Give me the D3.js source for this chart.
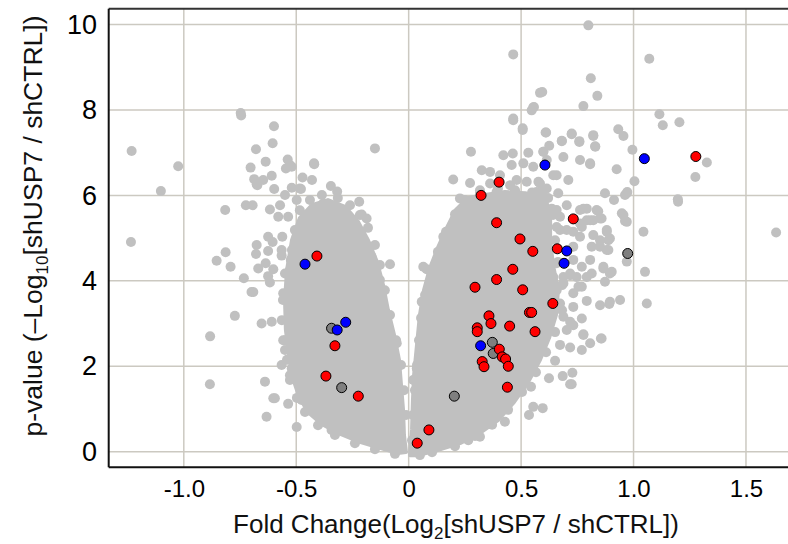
<!DOCTYPE html>
<html>
<head>
<meta charset="utf-8">
<script src="https://cdn.jsdelivr.net/npm/d3@7"></script>
<style>
  body { margin: 0; background: #fff; }
  svg { display: block; font-family: "Liberation Sans", Arial, sans-serif; }
</style>
</head>
<body>
<div id="chart"></div>
<script>
// tick values and labels
const xTickValues = [-1.0, -0.5, 0, 0.5, 1.0, 1.5];
const xTickLabels = ["-1.0", "-0.5", "0", "0.5", "1.0", "1.5"];
const yTickValues = [0, 2, 4, 6, 8, 10];
const yTickLabels = ["0", "2", "4", "6", "8", "10"];

// outlines of the two dense clouds of grey points [log2FC, -log10 p]
const leftCore = [[-0.484,5.47],[-0.430,5.77],[-0.359,5.89],[-0.283,5.73],[-0.225,5.38],[-0.181,4.95],[-0.141,4.44],
  [-0.114,3.90],[-0.092,3.31],[-0.065,2.73],[-0.043,2.15],[-0.034,1.56],[-0.025,0.98],[-0.021,0.39],[-0.012,-0.01],
  [-0.048,-0.03],[-0.128,0.09],[-0.217,0.23],[-0.306,0.42],[-0.386,0.65],[-0.448,0.93],[-0.488,1.31],[-0.515,1.73],
  [-0.532,2.27],[-0.546,2.85],[-0.550,3.55],[-0.541,4.25],[-0.519,4.95]];
const rightCore = [[0.006,-0.08],[0.015,0.51],[0.019,1.21],[0.024,1.79],[0.037,2.50],[0.050,3.20],[0.068,3.78],
  [0.095,4.30],[0.130,4.77],[0.170,5.24],[0.210,5.66],[0.264,5.94],[0.339,6.01],[0.428,6.08],[0.518,6.05],[0.606,5.96],
  [0.629,5.54],[0.629,4.95],[0.642,4.37],[0.664,3.78],[0.655,3.20],[0.624,2.66],[0.584,2.15],[0.531,1.63],[0.468,1.16],
  [0.397,0.74],[0.317,0.44],[0.228,0.20],[0.117,0.02],[0.041,-0.08]];

// grey points sitting on the rim of the dense clouds
const rimPoints = [
  [-0.559,3.55],[-0.564,3.08],[-0.550,2.61],[-0.541,2.15],[-0.528,1.68],[-0.497,1.26],[-0.461,0.93],[-0.403,0.62],
  [-0.328,0.39],[-0.239,0.20],[-0.150,0.06],[-0.061,-0.05],
  [-0.506,5.19],[-0.519,4.72],[-0.528,4.25],[-0.484,5.65],[-0.439,5.89],[-0.386,6.01],[-0.315,5.94],[-0.261,5.77],
  [-0.217,5.54],[-0.181,5.24],[-0.150,4.84],[-0.128,4.37],[-0.106,3.78],[-0.056,2.61],[-0.034,2.03],[-0.021,1.44],[-0.012,0.86],
  [0.015,0.27],[0.019,0.86],[0.028,1.44],[0.037,2.03],[0.046,2.61],[0.055,3.13],[0.073,3.67],[0.099,4.21],[0.130,4.68],
  [0.166,5.15],[0.206,5.56],[0.250,5.89],
  [0.317,6.07],[0.397,6.16],[0.473,6.12],[0.549,6.07],[0.620,5.94],
  [0.642,5.54],[0.651,4.95],[0.664,4.44],[0.682,3.90],[0.682,3.31],[0.651,2.80],[0.611,2.33],[0.566,1.86],[0.504,1.40],
  [0.442,0.98],[0.371,0.63],[0.295,0.37],[0.206,0.13],[0.104,-0.01],[0.050,-0.08]
];

// scattered grey points outside the dense clouds
const greyPoints = [
  [-1.232,7.04],[-1.025,6.68],[-1.102,6.10],[-0.747,7.93],[-0.745,7.87],[-0.679,7.08],[-0.703,6.65],[-0.687,6.38],[-0.676,6.26],
  [-1.235,4.91],[-0.816,5.66],[-0.724,5.77],[-0.694,5.77],[-0.854,4.47],[-0.814,4.67],[-0.792,4.33],[-0.733,4.06],[-0.699,3.74],[-0.773,3.18],
  [-0.599,7.62],[-0.605,7.22],[-0.636,6.79],[-0.420,6.73],[-0.538,6.84],[-0.546,6.63],[-0.520,6.67],
  [-0.647,6.36],[-0.609,6.46],[-0.673,6.24],[-0.598,6.15],[-0.472,6.42],[-0.430,6.36],[-0.520,6.18],[-0.479,6.15],[-0.346,6.22],[-0.318,6.09],
  [-0.550,6.01],[-0.498,5.89],[-0.572,5.77],[-0.617,5.67],[-0.580,5.50],[-0.536,5.50],[-0.625,5.03],[-0.605,4.91],[-0.562,5.03],
  [-0.676,4.84],[-0.679,4.63],[-0.625,4.70],[-0.565,4.72],[-0.565,4.59],[-0.669,4.29],[-0.636,4.41],[-0.602,4.27],[-0.625,4.11],
  [-0.617,3.96],[-0.550,4.17],[-0.524,4.49],[-0.883,2.70],[-0.884,1.58],
  [-0.150,7.10],[-0.421,6.75],[-0.528,6.71],[-0.484,6.16],[-0.380,5.81],[-0.335,5.73],[-0.261,5.30],[-0.231,5.19],[-0.220,5.85],
  [-0.209,5.55],[-0.187,5.46],[-0.172,4.80],[-0.165,4.56],[-0.150,4.17],[-0.128,4.02],[-0.083,4.39],
  [-0.691,3.74],[-0.654,3.00],[-0.609,3.04],[-0.639,1.64],[-0.595,1.25],[-0.536,1.12],[-0.632,0.82],[-0.498,0.58],[-0.558,2.61],
  [-0.550,2.38],[-0.565,2.03],[-0.520,1.95],[-0.528,1.79],[-0.469,1.21],[-0.439,0.98],[-0.343,0.51],[-0.558,3.71],[-0.528,3.55],
  [-0.083,3.20],[-0.053,2.54],[-0.602,1.25],[-0.476,1.21],
  [0.065,3.51],[0.036,1.95],[0.020,1.68],
  [0.792,3.53],[0.892,3.46],[0.940,3.55],[1.059,3.47],[0.718,3.04],[0.770,3.12],[0.777,2.75],[0.807,2.54],[0.855,2.65],[0.770,2.38],
  [0.718,2.44],[0.673,2.50],[0.651,2.13],[0.685,1.77],[0.718,1.58],[0.728,1.85],[0.624,1.72],[0.544,1.52],[0.554,1.05],[0.596,1.02],
  [0.535,0.86],[0.428,0.70],[0.317,0.35],[0.725,1.58],[0.265,0.27],
  [0.161,5.01],[0.080,4.27],[0.117,4.25],
  [0.688,6.90],[0.762,6.83],[0.807,6.73],[0.925,6.61],[1.004,6.33],[0.873,6.05],[0.913,5.89],[0.962,6.01],[0.972,6.08],[0.948,5.58],
  [0.962,5.40],[1.044,5.15],[0.777,5.69],[0.843,5.63],[0.807,5.42],[0.858,5.46],[0.881,5.15],[0.851,4.95],[0.888,4.95],[0.814,4.80],
  [0.888,4.72],[0.970,4.45],[1.051,4.21],[0.866,4.29],[0.903,4.21],[0.814,4.17],[0.873,3.98],[0.755,3.86],[0.718,4.13],[0.732,3.39],
  [0.777,2.73],[0.858,2.65],[0.703,2.85],[0.732,2.96],[1.198,5.85],[1.275,6.43],[1.326,6.77],[1.634,5.13],[0.673,5.19],[0.673,5.50],
  [0.636,5.69],[0.710,6.36],[0.643,6.47],[0.614,6.83],[0.770,5.26],[0.821,5.07],[0.643,4.09],[0.658,3.78],[0.688,3.94],[0.673,3.47],[0.688,3.16],
  [0.799,9.98],[1.070,9.20],[0.810,8.74],[0.594,8.42],[0.839,8.33],[0.777,8.09],[0.557,8.07],[0.547,7.99],[1.115,7.90],[1.130,7.64],
  [1.204,7.71],[0.611,7.47],[0.725,7.43],[0.759,7.27],[0.821,7.39],[0.932,7.55],[0.955,7.39],[0.830,7.14],[0.681,7.28],[0.625,7.16],
  [0.599,7.02],[0.995,7.07],[0.577,6.32],[0.596,6.08],[0.665,6.05],[0.970,6.05],[1.197,5.91],
  [0.465,9.30],[0.465,7.80],[0.554,8.06],[0.584,8.40],[0.507,7.57],
  [0.465,7.76],[0.507,7.53],[0.609,7.47],[0.725,7.45],[0.821,7.41],[0.681,7.27],[0.759,7.25],[0.829,7.15],[0.277,7.02],[0.421,6.94],
  [0.463,6.98],[0.532,7.00],[0.599,7.02],[0.807,6.75],[0.198,6.37],[0.273,6.29],[0.325,6.59],[0.362,6.55],[0.406,6.47],[0.458,6.71],
  [0.510,6.75],[0.554,6.67],[0.658,6.47],
  [0.792,5.69],[0.836,5.66],[0.851,5.46],[0.821,5.42],[0.955,5.54],[0.970,5.38],[0.881,5.19],[0.895,4.99],[0.851,4.80],[0.881,4.72],
  [0.762,5.03],[0.732,5.15],[0.807,4.49],[0.866,4.33],[0.895,4.17],[0.851,3.43],[0.895,3.51],[0.770,4.33],[0.747,4.09],[0.792,4.09],
  [0.732,3.71],[0.770,3.86],
  [0.658,5.66],[0.703,5.77],[0.762,5.66],[0.792,5.42],[0.658,5.26],[0.703,5.19],[0.762,5.34],[0.732,4.80],[0.658,4.41],[0.732,4.49],
  [0.688,4.09],[0.643,3.86],[0.718,4.17],
  [0.065,4.33],[0.109,4.25],[0.154,5.03],[0.058,3.51],
  [0.228,5.93],[0.258,5.69],[0.317,6.12],[0.362,6.28],[0.451,6.24],[0.480,6.36],[0.525,6.32],[0.584,6.28],[0.614,6.16],[0.569,6.08],
  [0.391,6.08],[0.347,5.81]
];

// highlighted proteins
const darkPoints = [[-0.343,2.89],[-0.298,1.50],[0.203,1.30],[0.372,2.56],[0.376,2.30],[0.974,4.64]];
const redPoints = [[-0.408,4.58],[-0.328,2.48],[-0.368,1.77],[-0.224,1.30],[0.038,0.20],[0.090,0.51],
  [0.402,6.31],[0.322,6.00],[0.732,5.45],[0.391,5.36],[0.495,4.98],[0.552,4.69],[0.661,4.75],[0.463,4.27],[0.391,4.03],
  [0.295,3.85],[0.507,3.79],[0.641,3.47],[0.537,3.26],[0.547,3.26],[0.357,3.18],[0.366,3.00],[0.449,2.94],[0.562,2.81],
  [0.305,2.90],[0.305,2.81],[0.403,2.40],[0.416,2.22],[0.431,2.17],[0.443,2.00],[0.327,2.11],[0.335,1.99],[0.439,1.51],[1.277,6.91]];
const bluePoints = [[-0.461,4.39],[-0.280,3.03],[-0.318,2.85],[0.320,2.48],[0.606,6.71],[1.048,6.86],[0.703,4.70],[0.691,4.41]];

function buildVolcano() {
  const width = 788;
  const height = 544;
  const plot = { left: 108.7, top: 8.7, bottom: 467.3, right: 795 };

  const svg = d3.select("#chart")
    .append("svg")
    .attr("width", width)
    .attr("height", height);

  const x = d3.scaleLinear().domain([-1.334, 1.718]).range([plot.left, plot.right]);
  const y = d3.scaleLinear().domain([-0.365, 10.37]).range([plot.bottom, plot.top]);

  // grid
  svg.append("g")
    .selectAll("line")
    .data(xTickValues)
    .enter()
    .append("line")
    .attr("x1", d => x(d)).attr("x2", d => x(d))
    .attr("y1", plot.top).attr("y2", plot.bottom)
    .attr("stroke", "#ccc9c1").attr("stroke-width", 1.5);
  svg.append("g")
    .selectAll("line")
    .data(yTickValues)
    .enter()
    .append("line")
    .attr("x1", plot.left).attr("x2", width)
    .attr("y1", d => y(d)).attr("y2", d => y(d))
    .attr("stroke", "#ccc9c1").attr("stroke-width", 1.5);

  // dense clouds
  const outline = d3.line().x(d => x(d[0])).y(d => y(d[1])).curve(d3.curveLinearClosed);
  svg.append("g")
    .selectAll("path")
    .data([leftCore, rightCore])
    .enter()
    .append("path")
    .attr("d", outline)
    .attr("fill", "#c0c0c0")
    .attr("stroke", "#c0c0c0")
    .attr("stroke-width", 4)
    .attr("stroke-linejoin", "round");

  // grey points
  svg.append("g")
    .selectAll("circle")
    .data(rimPoints.concat(greyPoints))
    .enter()
    .append("circle")
    .attr("cx", d => x(d[0]))
    .attr("cy", d => y(d[1]))
    .attr("r", 5)
    .attr("fill", "#c0c0c0");

  // highlighted points
  const groups = [
    { pts: darkPoints, color: "#7f7f7f" },
    { pts: redPoints, color: "#ff0000" },
    { pts: bluePoints, color: "#0000ff" }
  ];
  groups.forEach(g => {
    svg.append("g")
      .selectAll("circle")
      .data(g.pts)
      .enter()
      .append("circle")
      .attr("cx", d => x(d[0]))
      .attr("cy", d => y(d[1]))
      .attr("r", 5)
      .attr("fill", g.color)
      .attr("stroke", "#000")
      .attr("stroke-width", 1);
  });

  // axes
  const xAxis = d3.axisBottom(x)
    .tickValues(xTickValues)
    .tickFormat((d, i) => xTickLabels[i])
    .tickSize(0)
    .tickPadding(12.7);
  svg.append("g")
    .attr("transform", `translate(0, ${plot.bottom})`)
    .call(xAxis)
    .call(g => g.select(".domain").remove())
    .selectAll("text")
    .attr("font-size", 24)
    .attr("font-family", "Liberation Sans, Arial, sans-serif")
    .attr("fill", "#000");

  const yAxis = d3.axisLeft(y)
    .tickValues(yTickValues)
    .tickFormat((d, i) => yTickLabels[i])
    .tickSize(0)
    .tickPadding(11.7);
  svg.append("g")
    .attr("transform", `translate(${plot.left}, 0)`)
    .call(yAxis)
    .call(g => g.select(".domain").remove())
    .selectAll("text")
    .attr("font-size", 27)
    .attr("font-family", "Liberation Sans, Arial, sans-serif")
    .attr("fill", "#000");

  // frame lines
  svg.append("line")
    .attr("x1", plot.left).attr("x2", width)
    .attr("y1", plot.top).attr("y2", plot.top)
    .attr("stroke", "#333").attr("stroke-width", 2);
  svg.append("line")
    .attr("x1", plot.left).attr("x2", width)
    .attr("y1", plot.bottom).attr("y2", plot.bottom)
    .attr("stroke", "#111").attr("stroke-width", 2);
  svg.append("line")
    .attr("x1", plot.left).attr("x2", plot.left)
    .attr("y1", plot.top).attr("y2", plot.bottom)
    .attr("stroke", "#111").attr("stroke-width", 2);

  // axis titles
  const xt = svg.append("text")
    .attr("x", 456).attr("y", 533)
    .attr("text-anchor", "middle")
    .attr("font-size", 26)
    .attr("fill", "#111");
  xt.append("tspan").text("Fold Change(Log");
  xt.append("tspan").attr("font-size", 17).attr("dy", 6).text("2");
  xt.append("tspan").attr("dy", -6).text("[shUSP7 / shCTRL])");

  const yt = svg.append("text")
    .attr("transform", "translate(42, 226) rotate(-90)")
    .attr("text-anchor", "middle")
    .attr("font-size", 26.5)
    .attr("fill", "#111");
  yt.append("tspan").text("p-value (\u2013Log");
  yt.append("tspan").attr("font-size", 17).attr("dy", 6).text("10");
  yt.append("tspan").attr("dy", -6).text("[shUSP7 / shCTRL])");
}

window.onload = buildVolcano;
</script>
</body>
</html>
